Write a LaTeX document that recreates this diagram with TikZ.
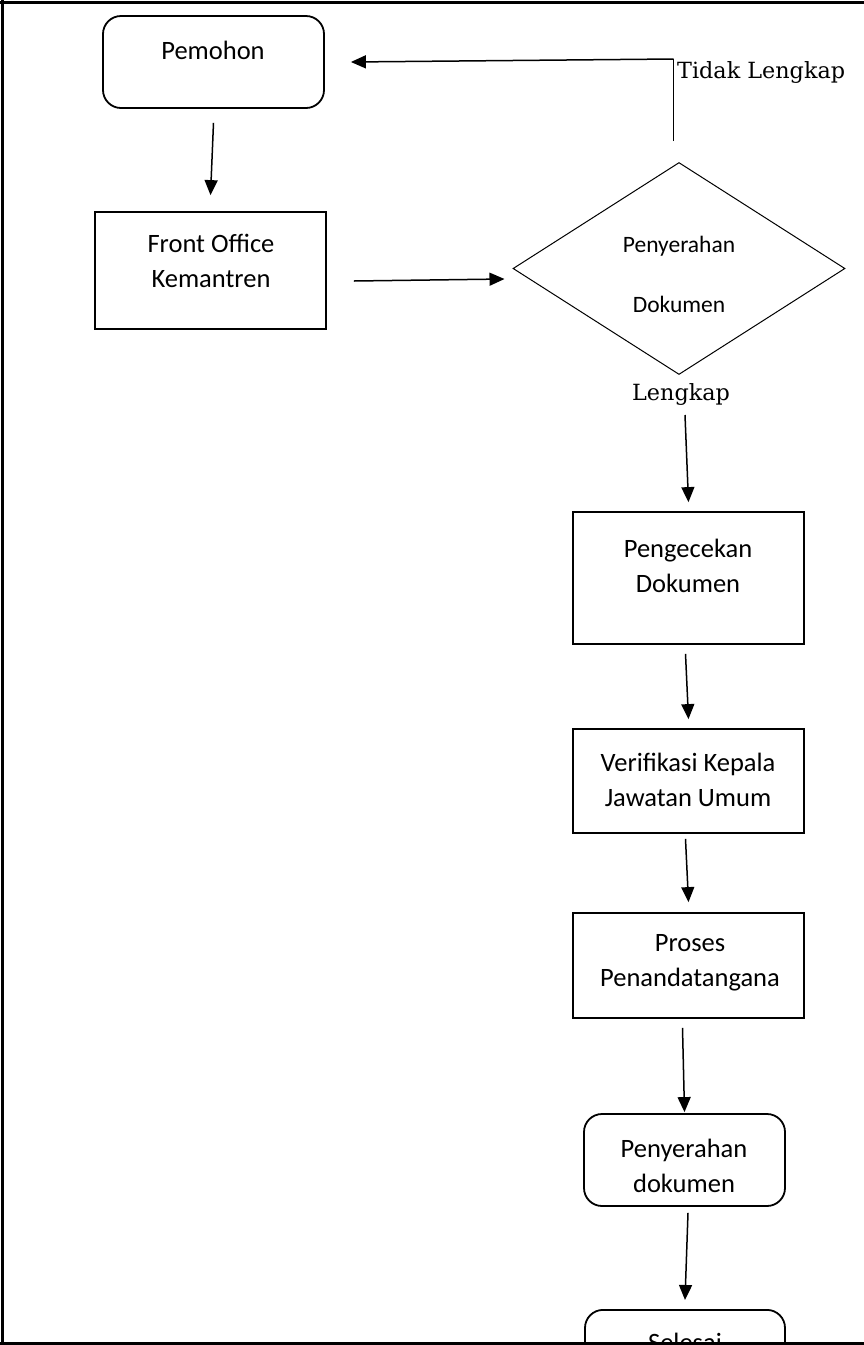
\documentclass[tikz,border=0pt]{standalone}
\usepackage{fontspec}
\newfontfamily\boxfont{Carlito}
\newfontfamily\lblfont{DejaVu Serif}
\usetikzlibrary{arrows.meta,shapes.geometric}
\begin{document}
\begin{tikzpicture}[x=1pt,y=-1pt,
  box/.style={draw,line width=1.8pt,inner sep=0pt},
  rbox/.style={box,rounded corners=18pt},
  decision/.style={draw,diamond,line width=1pt,inner sep=0pt},
  txt/.style={font=\boxfont\fontsize{26.5}{35}\selectfont,align=center,inner sep=0pt},
  dtxt/.style={font=\boxfont\fontsize{23.5}{60}\selectfont,align=center,inner sep=0pt},
  lbl/.style={font=\lblfont\fontsize{22.3}{28}\selectfont,inner sep=0pt},
  arr/.style={line width=1.5pt,-{Triangle[length=15pt,width=13pt]}},
  frame/.style={line width=3pt}]
\useasboundingbox (0,0) rectangle (864,1345);
\clip (0,0) rectangle (864,1345);

% page frame (top, left, bottom)
\draw[frame] (0,2) -- (864,2);
\draw[frame] (2,0) -- (2,1345);
\draw[line width=2.5pt] (0,1343.5) -- (864,1343.5);

% boxes
\node[rbox,minimum width=221pt,minimum height=92pt] (pem) at (213.5,62) {};
\node[txt] (pemT) at (213,50) {Pemohon};

\node[box,minimum width=231pt,minimum height=117pt] (fo) at (210.5,270.5) {};
\node[txt] (foT) at (211,261) {Front Office\\Kemantren};

\node[decision,minimum width=332pt,minimum height=212pt] (dec) at (679,268.5) {};
\node[dtxt] (decT) at (679,274) {Penyerahan\\Dokumen};

\node[box,minimum width=231pt,minimum height=132pt] (pc) at (688.5,578) {};
\node[txt] (pcT) at (688,566) {Pengecekan\\Dokumen};

\node[box,minimum width=231pt,minimum height=104pt] (vk) at (688.5,781) {};
\node[txt] (vkT) at (688,780) {Verifikasi Kepala\\Jawatan Umum};

\node[box,minimum width=231pt,minimum height=105pt] (pt) at (688.5,965.5) {};
\node[txt] (ptT) at (690,963) {Proses\\Penandatangana};

\node[rbox,minimum width=201pt,minimum height=92pt] (pd) at (684.5,1160) {};
\node[txt] (pdT) at (684,1166) {Penyerahan\\dokumen};

\node[rbox,minimum width=200pt,minimum height=90pt,anchor=north] (sel) at (685,1309) {};
\node[txt,anchor=base] (selT) at (685,1351) {Selesai};

% labels
\node[lbl,anchor=base west] (tl) at (677,78) {Tidak Lengkap};
\node[lbl,anchor=base] (lk) at (681,400) {Lengkap};

% connectors
\draw[arr] ([yshift=-14pt]pem.south) -- ([yshift=16pt]fo.north);
\draw[arr] ([xshift=27pt,yshift=-10.5pt]fo.east) -- ([xshift=-8pt,yshift=-10.5pt]dec.west);
\coordinate (bend) at (673.5,59);
\draw[line width=1.5pt] ([xshift=-5.5pt,yshift=21pt]dec.north) -- (bend);
\draw[arr] (bend) -- ([xshift=26pt]pem.east |- 0,62);
\draw[arr] ([xshift=6pt,yshift=-40pt]dec.south) -- ([yshift=9pt]pc.north);
\draw[arr] ([xshift=-3pt,yshift=-9pt]pc.south) -- ([yshift=9pt]vk.north);
\draw[arr] ([xshift=-3pt,yshift=-5pt]vk.south) -- ([yshift=10pt]pt.north);
\draw[arr] ([xshift=-6pt,yshift=-9pt]pt.south) -- ([yshift=1pt]pd.north);
\draw[arr] ([xshift=3.5pt,yshift=-6pt]pd.south) -- ([yshift=9pt]sel.north);
\end{tikzpicture}
\end{document}
